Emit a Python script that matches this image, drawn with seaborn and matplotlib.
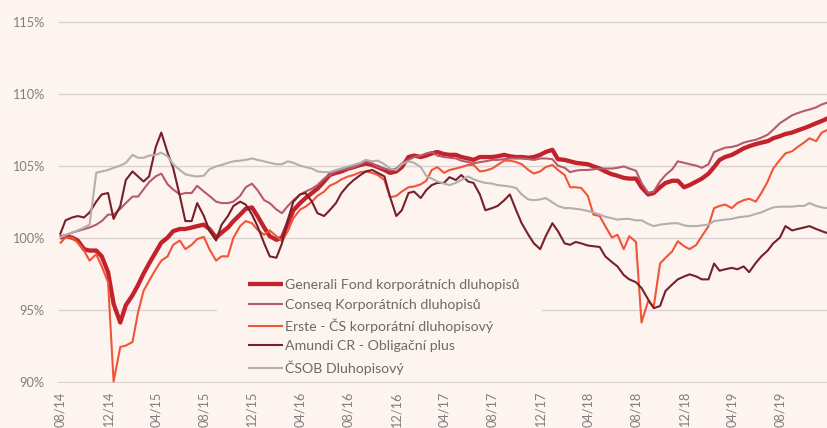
import numpy as np
import pandas as pd
import matplotlib
matplotlib.use("Agg")
import matplotlib.pyplot as plt
import seaborn as sns
from matplotlib.patches import Rectangle

# ---------------- data ----------------
tick_labels = ["08/14", "12/14", "04/15", "08/15", "12/15", "04/16", "08/16", "12/16",
               "04/17", "08/17", "12/17", "04/18", "08/18", "12/18", "04/19", "08/19"]

series_names = ["Generali Fond korporátních dluhopisů",
                "Conseq Korporátních dluhopisů",
                "Erste - ČS korporátní dluhopisový",
                "Amundi CR - Obligační plus",
                "ČSOB Dluhopisový"]

# semi-monthly observations, 08/2014 .. 12/2019 (values in %)
generali = [
    100.0, 100.1, 100.0, 99.8, 99.2, 99.1, 99.1, 98.7,
    97.6, 95.4, 94.1, 95.3, 96.0, 96.7, 97.5, 98.2,
    99.0, 99.65, 100.0, 100.45, 100.6, 100.6, 100.7, 100.8,
    100.9, 100.6, 100.0, 100.35, 100.7, 101.15, 101.6, 102.0,
    102.1, 101.5, 100.7, 100.1, 99.85, 100.0, 101.0, 101.9,
    102.4, 102.75, 103.1, 103.4, 103.9, 104.35, 104.5, 104.6,
    104.8, 104.9, 105.05, 105.15, 105.05, 104.9, 104.7, 104.5,
    104.6, 104.9, 105.6, 105.7, 105.6, 105.7, 105.85, 105.95,
    105.8, 105.75, 105.75, 105.6, 105.5, 105.4, 105.6, 105.6,
    105.6, 105.65, 105.75, 105.65, 105.6, 105.6, 105.55, 105.6,
    105.75, 105.95, 106.1, 105.45, 105.4, 105.3, 105.2, 105.15,
    105.1, 104.95, 104.8, 104.6, 104.4, 104.3, 104.15, 104.1,
    104.1, 103.5, 103.0, 103.1, 103.5, 103.8, 103.95, 103.95,
    103.5, 103.65, 103.9, 104.1, 104.45, 104.9, 105.4, 105.6,
    105.75, 105.95, 106.2, 106.35, 106.5, 106.6, 106.7, 106.9,
    107.05, 107.2, 107.3, 107.45, 107.6, 107.75, 107.95, 108.1,
    108.3]

conseq = [
    100.0, 100.15, 100.35, 100.46, 100.58, 100.7, 100.9, 101.15,
    101.6, 101.6, 102.0, 102.4, 102.85, 102.85, 103.35, 103.85,
    104.26, 104.45, 103.7, 103.35, 103.0, 103.1, 103.1, 103.6,
    103.2, 102.9, 102.5, 102.4, 102.4, 102.5, 102.9, 103.5,
    103.75, 103.3, 102.6, 102.4, 101.95, 101.7, 102.2, 102.6,
    103.0, 103.2, 103.4, 103.65, 104.1, 104.35, 104.6, 104.7,
    104.8, 104.9, 105.1, 105.3, 105.15, 104.9, 104.8, 104.7,
    104.8, 105.15, 105.4, 105.6, 105.7, 105.85, 105.95, 105.7,
    105.6, 105.55, 105.5, 105.35, 105.25, 105.15, 105.25, 105.3,
    105.4, 105.4, 105.45, 105.5, 105.5, 105.5, 105.45, 105.4,
    105.5, 105.5, 105.45, 105.0, 104.85, 104.55, 104.65, 104.7,
    104.7, 104.75, 104.8, 104.8, 104.8, 104.85, 104.95, 104.8,
    104.65, 103.8, 103.1, 103.2, 103.9, 104.35, 104.75, 105.3,
    105.2, 105.1, 105.0, 104.85, 105.1, 105.95, 106.1, 106.25,
    106.3, 106.4, 106.6, 106.7, 106.8, 106.95, 107.15, 107.5,
    107.95, 108.2, 108.5, 108.65, 108.8, 108.9, 109.05, 109.25,
    109.4]

erste = [
    99.6, 100.0, 100.0, 99.65, 99.1, 98.4, 98.85, 98.0,
    96.9, 90.0, 92.4, 92.5, 92.75, 94.8, 96.3, 97.0,
    97.8, 98.4, 98.7, 99.5, 99.8, 99.2, 99.5, 99.9,
    100.05, 99.2, 98.4, 98.7, 98.7, 100.0, 100.8, 101.15,
    101.0, 100.55, 100.2, 100.5, 100.1, 99.75, 100.45, 101.35,
    101.95, 102.15, 102.5, 102.9, 103.2, 103.6, 103.8, 104.05,
    104.25, 104.35, 104.55, 104.6, 104.5, 104.35, 104.0, 102.8,
    102.9, 103.2, 103.5, 103.55, 103.7, 103.95, 104.7, 104.9,
    104.5, 104.7, 104.8, 104.9, 105.05, 105.05, 104.6, 104.65,
    104.8, 105.05, 105.35, 105.35, 105.25, 105.1, 104.7, 104.45,
    104.6, 104.9, 105.05, 104.7, 104.35, 103.5, 103.5, 103.45,
    102.9, 101.6, 101.5, 100.8, 100.0, 100.2, 99.2, 100.1,
    99.7, 94.1, 95.6, 95.2, 98.2, 98.6, 99.05, 99.75,
    99.4, 99.2, 99.5, 100.1, 100.8, 102.05, 102.2, 102.3,
    102.05, 102.4, 102.6, 102.7, 102.5, 103.1, 103.9, 104.8,
    105.4, 105.85, 106.0, 106.3, 106.6, 106.9, 106.7, 107.3,
    107.5]

amundi = [
    100.2, 101.2, 101.4, 101.5, 101.4, 101.75, 102.5, 103.0,
    103.1, 101.3, 102.2, 104.0, 104.6, 104.25, 103.9, 104.25,
    106.3, 107.3, 105.9, 104.85, 102.9, 101.15, 101.15, 102.4,
    101.5, 100.5, 99.8, 100.9, 101.5, 102.2, 102.5, 102.3,
    101.6, 100.8, 99.6, 98.7, 98.6, 99.6, 101.25, 102.5,
    103.0, 103.1, 102.5, 101.7, 101.5, 101.9, 102.4, 103.1,
    103.65, 104.0, 104.35, 104.6, 104.7, 104.5, 104.25, 102.85,
    101.5, 101.9, 103.1, 103.2, 102.75, 103.3, 103.65, 103.8,
    103.8, 104.2, 104.0, 104.35, 103.9, 103.8, 103.0, 101.9,
    102.05, 102.2, 102.6, 103.0, 101.9, 101.0, 100.2, 99.6,
    99.2, 100.1, 101.0, 100.45, 99.6, 99.5, 99.7, 99.6,
    99.45, 99.4, 99.35, 98.7, 98.3, 98.0, 97.4, 97.1,
    96.9, 96.5, 95.7, 95.1, 95.25, 96.3, 96.75, 97.1,
    97.3, 97.45, 97.3, 97.1, 97.1, 98.2, 97.7, 97.8,
    97.9, 97.8, 98.0, 97.6, 98.25, 98.7, 99.1, 99.6,
    100.0, 100.8, 100.5, 100.6, 100.7, 100.8, 100.6, 100.45,
    100.3]

csob = [
    100.0, 100.2, 100.35, 100.5, 100.7, 100.9, 104.5, 104.6,
    104.7, 104.85, 105.0, 105.2, 105.75, 105.55, 105.55, 105.7,
    105.75, 105.9, 105.65, 105.1, 104.7, 104.4, 104.3, 104.25,
    104.3, 104.75, 104.95, 105.05, 105.2, 105.3, 105.35, 105.4,
    105.5, 105.4, 105.3, 105.2, 105.1, 105.1, 105.3, 105.2,
    105.0, 104.9, 104.8, 104.6, 104.55, 104.55, 104.7, 104.8,
    104.95, 105.05, 105.2, 105.4, 105.3, 105.35, 105.1, 104.8,
    104.7, 105.1, 105.3, 105.2, 104.9, 104.3, 104.1, 103.9,
    103.75, 103.65, 103.8, 104.0, 104.25, 104.05, 103.9, 103.8,
    103.75, 103.65, 103.6, 103.55, 103.45, 103.0, 102.65, 102.6,
    102.65, 102.75, 102.45, 102.2, 102.05, 102.05, 102.0, 101.95,
    101.85, 101.75, 101.6, 101.45, 101.35, 101.25, 101.3, 101.3,
    101.2, 101.2, 100.95, 100.8, 100.9, 100.95, 101.0, 101.0,
    100.85, 100.8, 100.8, 100.85, 100.9, 101.15, 101.2, 101.25,
    101.3, 101.4, 101.45, 101.5, 101.65, 101.75, 101.95, 102.1,
    102.15, 102.15, 102.15, 102.2, 102.2, 102.4, 102.2, 102.1,
    102.05]

# ---------------- styling ----------------
BG = "#FDF4F0"
GRID = "#D9D4D2"
TICK = "#7F7F7F"
LEGTXT = "#6A6A6A"
colors = ["#C1222B", "#B65A6C", "#F0553A", "#76202A", "#B4AEAC"]
widths = [3.1, 1.5, 1.5, 1.5, 1.5]

sns.set_style("white", {"axes.facecolor": BG, "figure.facecolor": BG})
plt.rcParams["font.family"] = ["Lato", "DejaVu Sans"]

dates = pd.date_range("2014-08-01", periods=len(generali), freq="SMS")
frames = []
for name, vals in zip(series_names, [generali, conseq, erste, amundi, csob]):
    frames.append(pd.DataFrame({"date": dates, "value": vals, "fund": name}))
df = pd.concat(frames, ignore_index=True)

fig = plt.figure(figsize=(8.28, 4.28), dpi=100, facecolor=BG)
ax = fig.add_axes([58 / 828, 45 / 428, 770 / 828, 362 / 428])
ax.set_facecolor(BG)

for name, col, lw in zip(series_names, colors, widths):
    sub = df[df["fund"] == name]
    sns.lineplot(data=sub, x="date", y="value", ax=ax, color=col, linewidth=lw,
                 label=name, estimator=None, sort=False)
for ln in ax.get_lines():
    ln.set_solid_joinstyle("round")
    ln.set_solid_capstyle("butt")

# axes
ax.set_ylim(89.9, 115.05)
ax.set_yticks([90, 95, 100, 105, 110, 115])
ax.set_yticklabels([f"{v}%" for v in [90, 95, 100, 105, 110, 115]])
tick_dates = pd.to_datetime(tick_labels, format="%m/%y")
ax.set_xticks(tick_dates)
ax.set_xticklabels(tick_labels, rotation=90)
ax.set_xlim(pd.Timestamp("2014-07-27"), pd.Timestamp("2019-12-01"))
ax.set_xlabel("")
ax.set_ylabel("")
ax.grid(axis="y", color=GRID, linewidth=1.0)
ax.grid(axis="x", visible=False)
ax.set_axisbelow(True)
for s in ax.spines.values():
    s.set_visible(False)
ax.tick_params(axis="y", length=0, pad=10, labelsize=9.2, labelcolor=TICK)
ax.tick_params(axis="x", length=0, pad=6.5, labelsize=9.2, labelcolor=TICK)

# legend background panel (hides the gridline behind the legend)
ax.add_patch(Rectangle((0.2065, 0.006), 0.422, 0.300, transform=ax.transAxes,
                       facecolor=BG, edgecolor="none", zorder=1))

leg = ax.legend(loc="upper left", bbox_to_anchor=(248 / 828, 1 - 279 / 428),
                bbox_transform=fig.transFigure, frameon=False, fontsize=10.2,
                handlelength=2.45, handletextpad=0.15, labelspacing=0.54,
                borderpad=0, borderaxespad=0, labelcolor=LEGTXT)

fig.savefig("out.png", dpi=100, facecolor=BG)
